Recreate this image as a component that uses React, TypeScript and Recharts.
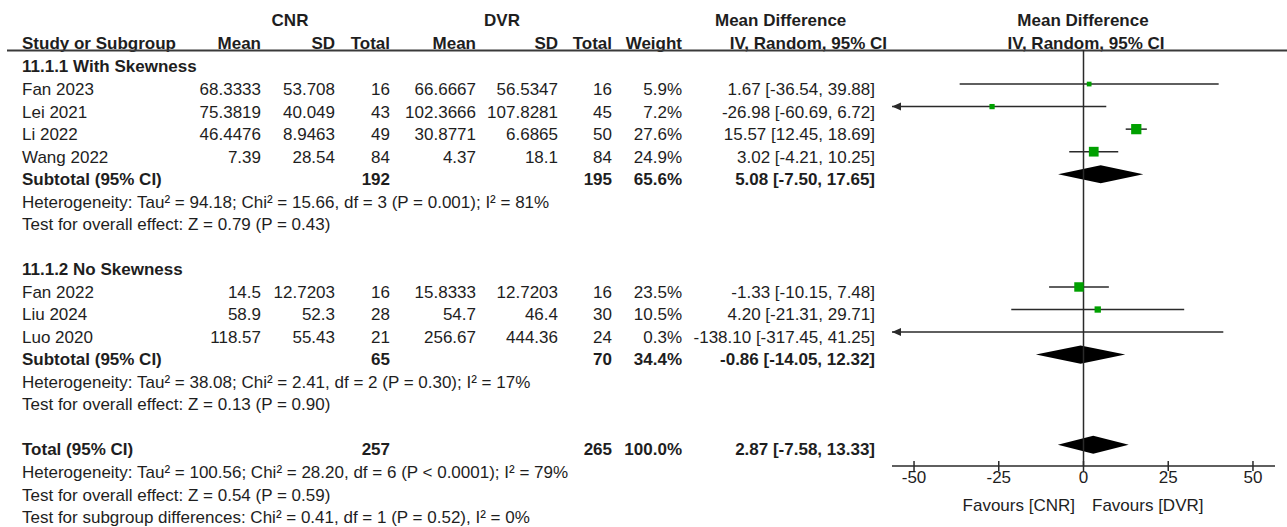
import React from 'react';
import {
  ComposedChart,
  XAxis,
  YAxis,
  Scatter,
  ReferenceLine,
  ReferenceArea,
  ReferenceDot,
  Customized,
} from 'recharts';

// ---------------- data ----------------
const groupTitles = ['11.1.1 With Skewness', '11.1.2 No Skewness'];
const studies = ['Fan 2023', 'Lei 2021', 'Li 2022', 'Wang 2022', 'Fan 2022', 'Liu 2024', 'Luo 2020'];
const studyGroup = [0, 0, 0, 0, 1, 1, 1];
const cnrMean = ['68.3333', '75.3819', '46.4476', '7.39', '14.5', '58.9', '118.57'];
const cnrSd = ['53.708', '40.049', '8.9463', '28.54', '12.7203', '52.3', '55.43'];
const cnrN = [16, 43, 49, 84, 16, 28, 21];
const dvrMean = ['66.6667', '102.3666', '30.8771', '4.37', '15.8333', '54.7', '256.67'];
const dvrSd = ['56.5347', '107.8281', '6.6865', '18.1', '12.7203', '46.4', '444.36'];
const dvrN = [16, 45, 50, 84, 16, 30, 24];
const weight = [5.9, 7.2, 27.6, 24.9, 23.5, 10.5, 0.3];
const md = [1.67, -26.98, 15.57, 3.02, -1.33, 4.2, -138.1];
const ciLow = [-36.54, -60.69, 12.45, -4.21, -10.15, -21.31, -317.45];
const ciHigh = [39.88, 6.72, 18.69, 10.25, 7.48, 29.71, 41.25];

const pooledLabels = ['Subtotal (95% CI)', 'Subtotal (95% CI)', 'Total (95% CI)'];
const pooledCnrN = [192, 65, 257];
const pooledDvrN = [195, 70, 265];
const pooledWeight = [65.6, 34.4, 100.0];
const pooledMd = [5.08, -0.86, 2.87];
const pooledLow = [-7.5, -14.05, -7.58];
const pooledHigh = [17.65, 12.32, 13.33];

const groupNotes = [
  [
    'Heterogeneity: Tau² = 94.18; Chi² = 15.66, df = 3 (P = 0.001); I² = 81%',
    'Test for overall effect: Z = 0.79 (P = 0.43)',
  ],
  [
    'Heterogeneity: Tau² = 38.08; Chi² = 2.41, df = 2 (P = 0.30); I² = 17%',
    'Test for overall effect: Z = 0.13 (P = 0.90)',
  ],
];
const totalNotes = [
  'Heterogeneity: Tau² = 100.56; Chi² = 28.20, df = 6 (P < 0.0001); I² = 79%',
  'Test for overall effect: Z = 0.54 (P = 0.59)',
  'Test for subgroup differences: Chi² = 0.41, df = 1 (P = 0.52), I² = 0%',
];

const xTicks = [-50, -25, 0, 25, 50];
const favourLeft = 'Favours [CNR]';
const favourRight = 'Favours [DVR]';

// ---------------- layout ----------------
const W = 1287;
const H = 527;
const X_MIN = -56.5;
const X_MAX = 56.5;
const Y_TOP = -0.51;
const Y_BOTTOM = 17.94;
const FONT = '"Liberation Sans", Arial, Helvetica, sans-serif';
const FS = 17;
const TXT = '#1e1e1e';
const LINE = '#2a2a2a';
const GREEN = '#00a000';

// build row assignments
type Row = { kind: string; idx: number; r: number };
const rows: Row[] = [];
let rr = 0;
[0, 1].forEach((g) => {
  rows.push({ kind: 'group', idx: g, r: rr++ });
  studies.forEach((_, i) => {
    if (studyGroup[i] === g) rows.push({ kind: 'study', idx: i, r: rr++ });
  });
  rows.push({ kind: 'pooled', idx: g, r: rr++ });
  groupNotes[g].forEach((_, k) => rows.push({ kind: 'gnote', idx: g * 10 + k, r: rr++ }));
  rr++;
});
rows.push({ kind: 'pooled', idx: 2, r: rr++ });
totalNotes.forEach((_, k) => rows.push({ kind: 'tnote', idx: k, r: rr++ }));

const studyRow: number[] = studies.map((_, i) => rows.find((x) => x.kind === 'study' && x.idx === i)!.r);
const pooledRow: number[] = pooledLabels.map((_, i) => rows.find((x) => x.kind === 'pooled' && x.idx === i)!.r);

const textY = (r: number) => 66.5 + 22.53 * r;

const COL = {
  name: 22,
  cnrMean: 261,
  cnrSd: 335,
  cnrN: 390,
  dvrMean: 476,
  dvrSd: 558,
  dvrN: 612,
  weight: 682,
  ci: 875,
};

const fmtCI = (m: number, l: number, h: number) => `${m.toFixed(2)} [${l.toFixed(2)}, ${h.toFixed(2)}]`;

const T = (props: any) => (
  <text
    fontFamily={FONT}
    fontSize={FS}
    fill={TXT}
    dy="0.35em"
    {...props}
  />
);

const TableLayer = () => {
  const items: React.ReactNode[] = [];
  // headers
  items.push(
    <T key="h-cnr" x={290} y={20} textAnchor="middle" fontWeight="bold">CNR</T>,
    <T key="h-dvr" x={502} y={20} textAnchor="middle" fontWeight="bold">DVR</T>,
    <T key="h-md1" x={715} y={20} fontWeight="bold">Mean Difference</T>,
    <T key="h-md2" x={1083} y={20} textAnchor="middle" fontWeight="bold">Mean Difference</T>,
    <T key="h-study" x={COL.name} y={43} fontWeight="bold">Study or Subgroup</T>,
    <T key="h-m1" x={COL.cnrMean} y={43} textAnchor="end" fontWeight="bold">Mean</T>,
    <T key="h-s1" x={COL.cnrSd} y={43} textAnchor="end" fontWeight="bold">SD</T>,
    <T key="h-t1" x={COL.cnrN} y={43} textAnchor="end" fontWeight="bold">Total</T>,
    <T key="h-m2" x={COL.dvrMean} y={43} textAnchor="end" fontWeight="bold">Mean</T>,
    <T key="h-s2" x={COL.dvrSd} y={43} textAnchor="end" fontWeight="bold">SD</T>,
    <T key="h-t2" x={COL.dvrN} y={43} textAnchor="end" fontWeight="bold">Total</T>,
    <T key="h-w" x={COL.weight} y={43} textAnchor="end" fontWeight="bold">Weight</T>,
    <T key="h-iv1" x={887} y={43} textAnchor="end" fontWeight="bold">IV, Random, 95% CI</T>,
    <T key="h-iv2" x={1086} y={43} textAnchor="middle" fontWeight="bold">IV, Random, 95% CI</T>,
    <line key="h-line" x1={7} x2={W} y1={50.5} y2={50.5} stroke="#3a3a3a" strokeWidth={2} />
  );

  rows.forEach((row) => {
    const y = textY(row.r);
    if (row.kind === 'group') {
      items.push(<T key={`g${row.idx}`} x={COL.name} y={y} fontWeight="bold">{groupTitles[row.idx]}</T>);
    } else if (row.kind === 'study') {
      const i = row.idx;
      items.push(
        <g key={`s${i}`}>
          <T x={COL.name} y={y}>{studies[i]}</T>
          <T x={COL.cnrMean} y={y} textAnchor="end">{cnrMean[i]}</T>
          <T x={COL.cnrSd} y={y} textAnchor="end">{cnrSd[i]}</T>
          <T x={COL.cnrN} y={y} textAnchor="end">{cnrN[i]}</T>
          <T x={COL.dvrMean} y={y} textAnchor="end">{dvrMean[i]}</T>
          <T x={COL.dvrSd} y={y} textAnchor="end">{dvrSd[i]}</T>
          <T x={COL.dvrN} y={y} textAnchor="end">{dvrN[i]}</T>
          <T x={COL.weight} y={y} textAnchor="end">{weight[i].toFixed(1)}%</T>
          <T x={COL.ci} y={y} textAnchor="end">{fmtCI(md[i], ciLow[i], ciHigh[i])}</T>
        </g>
      );
    } else if (row.kind === 'pooled') {
      const i = row.idx;
      items.push(
        <g key={`p${i}`}>
          <T x={COL.name} y={y} fontWeight="bold">{pooledLabels[i]}</T>
          <T x={COL.cnrN} y={y} textAnchor="end" fontWeight="bold">{pooledCnrN[i]}</T>
          <T x={COL.dvrN} y={y} textAnchor="end" fontWeight="bold">{pooledDvrN[i]}</T>
          <T x={COL.weight} y={y} textAnchor="end" fontWeight="bold">{pooledWeight[i].toFixed(1)}%</T>
          <T x={COL.ci} y={y} textAnchor="end" fontWeight="bold">{fmtCI(pooledMd[i], pooledLow[i], pooledHigh[i])}</T>
        </g>
      );
    } else if (row.kind === 'gnote') {
      const g = Math.floor(row.idx / 10);
      const k = row.idx % 10;
      items.push(<T key={`gn${row.idx}`} x={COL.name} y={y}>{groupNotes[g][k]}</T>);
    } else if (row.kind === 'tnote') {
      items.push(<T key={`tn${row.idx}`} x={COL.name} y={y}>{totalNotes[row.idx]}</T>);
    }
  });

  items.push(
    <T key="fav-l" x={1075} y={505} textAnchor="end">{favourLeft}</T>,
    <T key="fav-r" x={1092} y={505}>{favourRight}</T>
  );
  return <g>{items}</g>;
};

const squareData = studies
  .map((s, i) => ({ name: s, x: md[i], y: studyRow[i], w: weight[i] }))
  .filter((d) => d.x >= X_MIN && d.x <= X_MAX);

const SquareShape = (props: any) => {
  const { cx, cy, payload } = props;
  if (cx == null || cy == null) return null;
  const s = 1.95 * Math.sqrt(payload.w);
  return <rect x={cx - s / 2} y={cy - s / 2} width={s} height={s} fill={GREEN} />;
};

const ArrowLeft = (props: any) => {
  const { cx, cy } = props;
  if (cx == null || cy == null) return null;
  return <path d={`M${cx},${cy} L${cx + 9},${cy - 4} L${cx + 9},${cy + 4} Z`} fill={LINE} />;
};

const ArrowRight = (props: any) => {
  const { cx, cy } = props;
  if (cx == null || cy == null) return null;
  return <path d={`M${cx},${cy} L${cx - 9},${cy - 4} L${cx - 9},${cy + 4} Z`} fill={LINE} />;
};

const DiamondShape = (props: any) => {
  const { x, y, width, height } = props;
  if (x == null) return null;
  const top = Math.min(y, y + height);
  const h = Math.abs(height);
  const left = Math.min(x, x + width);
  const w = Math.abs(width);
  return (
    <polygon
      points={`${left},${top + h / 2} ${left + w / 2},${top} ${left + w},${top + h / 2} ${left + w / 2},${top + h}`}
      fill="#000"
    />
  );
};

const AxisTick = (props: any) => {
  const { x, y, payload } = props;
  return (
    <g>
      <line x1={x} x2={x} y1={y - 5} y2={y + 5} stroke={LINE} strokeWidth={1.5} />
      <text x={x} y={y + 11} dy="0.35em" textAnchor="middle" fontFamily={FONT} fontSize={FS} fill={TXT}>
        {payload.value}
      </text>
    </g>
  );
};

export default function App() {
  return (
    <div style={{ position: 'absolute', left: 0, top: 0, width: W, height: H, background: '#fff' }}>
      <ComposedChart
        width={W}
        height={H}
        data={squareData}
        margin={{ top: 50, right: W - 1275, bottom: 21, left: 892 }}
      >
        <XAxis
          type="number"
          dataKey="x"
          domain={[X_MIN, X_MAX]}
          ticks={xTicks}
          allowDataOverflow
          height={40}
          tickSize={0}
          tickMargin={0}
          tickLine={false}
          axisLine={{ stroke: LINE, strokeWidth: 1.5 }}
          tick={<AxisTick />}
          interval={0}
        />
        <YAxis type="number" dataKey="y" domain={[Y_TOP, Y_BOTTOM]} reversed hide allowDataOverflow />
        <ReferenceLine x={0} stroke={LINE} strokeWidth={1.5} />
        {studies.map((s, i) => (
          <ReferenceLine
            key={`ci-${s}`}
            segment={[
              { x: Math.max(ciLow[i], X_MIN), y: studyRow[i] },
              { x: Math.min(ciHigh[i], X_MAX), y: studyRow[i] },
            ]}
            stroke={LINE}
            strokeWidth={1.5}
            ifOverflow="visible"
          />
        ))}
        {studies.map((s, i) =>
          ciLow[i] < X_MIN ? (
            <ReferenceDot key={`al-${s}`} x={X_MIN} y={studyRow[i]} shape={<ArrowLeft />} ifOverflow="visible" />
          ) : null
        )}
        {studies.map((s, i) =>
          ciHigh[i] > X_MAX ? (
            <ReferenceDot key={`ar-${s}`} x={X_MAX} y={studyRow[i]} shape={<ArrowRight />} ifOverflow="visible" />
          ) : null
        )}
        {pooledLabels.map((p, i) => (
          <ReferenceArea
            key={`dia-${i}`}
            x1={pooledLow[i]}
            x2={pooledHigh[i]}
            y1={pooledRow[i] - 0.4}
            y2={pooledRow[i] + 0.4}
            shape={<DiamondShape />}
            ifOverflow="visible"
          />
        ))}
        <Scatter data={squareData} dataKey="y" shape={<SquareShape />} isAnimationActive={false} />
        <Customized component={TableLayer} />
      </ComposedChart>
    </div>
  );
}
